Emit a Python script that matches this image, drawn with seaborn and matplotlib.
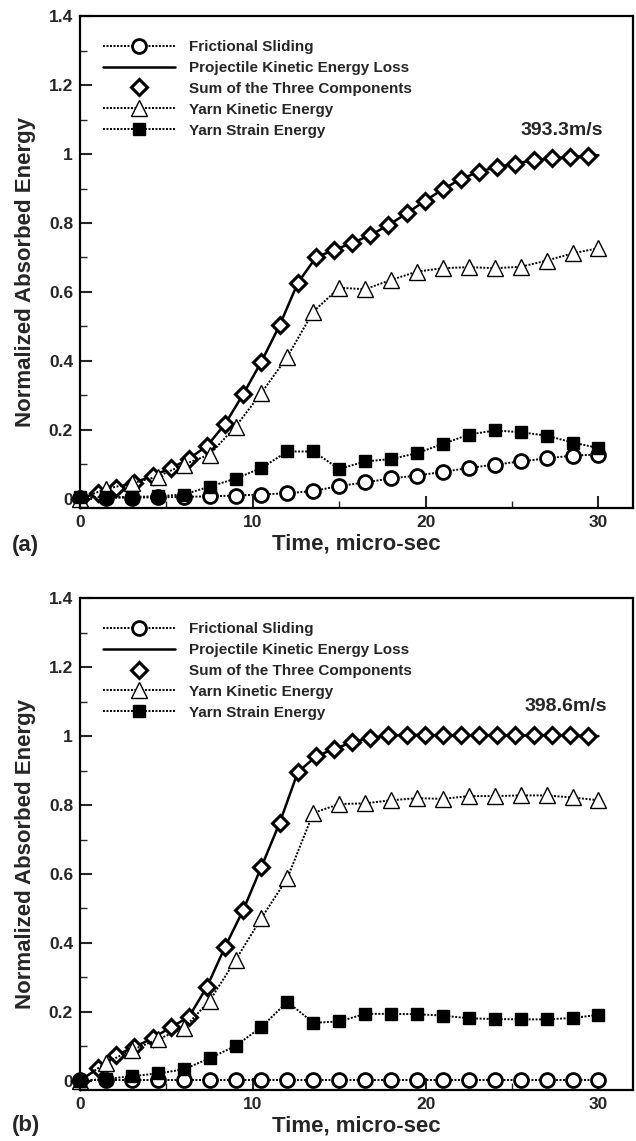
import numpy as np
import pandas as pd
import matplotlib
matplotlib.use('Agg')
import matplotlib.pyplot as plt
import seaborn as sns
from matplotlib.ticker import MultipleLocator, FuncFormatter
from matplotlib.font_manager import FontProperties

# time stamps, micro-sec
t_sum = [0, 1.05, 2.1, 3.15, 4.2, 5.25, 6.3, 7.35, 8.4, 9.45, 10.5, 11.55, 12.6, 13.65,
         14.7, 15.75, 16.8, 17.85, 18.9, 19.95, 21.0, 22.05, 23.1, 24.15, 25.2, 26.25,
         27.3, 28.35, 29.4]
t_proj = t_sum + [30]
t_yarn = [0, 1.5, 3, 4.5, 6, 7.5, 9, 10.5, 12, 13.5, 15, 16.5, 18, 19.5, 21, 22.5,
          24, 25.5, 27, 28.5, 30]

# (a) 393.3 m/s
sum_a = [0.0, 0.017, 0.032, 0.046, 0.067, 0.088, 0.116, 0.153, 0.217, 0.304, 0.398,
         0.503, 0.626, 0.700, 0.722, 0.742, 0.765, 0.794, 0.828, 0.864, 0.898, 0.928,
         0.949, 0.963, 0.972, 0.983, 0.988, 0.991, 0.995]
proj_a = sum_a + [0.997]
yke_a = [0.0, 0.028, 0.045, 0.064, 0.099, 0.128, 0.209, 0.307, 0.412, 0.543, 0.612,
         0.608, 0.635, 0.659, 0.669, 0.672, 0.669, 0.673, 0.691, 0.712, 0.727]
yse_a = [0.004, 0.004, 0.005, 0.007, 0.012, 0.035, 0.058, 0.089, 0.137, 0.137, 0.086,
         0.108, 0.115, 0.132, 0.159, 0.186, 0.198, 0.193, 0.183, 0.163, 0.147]
fric_a = [0.003, 0.003, 0.003, 0.004, 0.005, 0.007, 0.009, 0.012, 0.016, 0.022, 0.037,
          0.047, 0.059, 0.067, 0.078, 0.089, 0.099, 0.108, 0.117, 0.125, 0.128]

# (b) 398.6 m/s
sum_b = [0.0, 0.036, 0.074, 0.098, 0.123, 0.155, 0.185, 0.273, 0.389, 0.496, 0.621,
         0.748, 0.895, 0.941, 0.963, 0.982, 0.995, 1.002, 1.004, 1.003, 1.002, 1.002,
         1.002, 1.002, 1.002, 1.002, 1.002, 1.002, 1.0]
proj_b = sum_b + [1.0]
yke_b = [0.0, 0.052, 0.089, 0.120, 0.152, 0.232, 0.350, 0.472, 0.588, 0.777, 0.803,
         0.805, 0.814, 0.820, 0.818, 0.826, 0.826, 0.828, 0.828, 0.822, 0.814]
yse_b = [0.0, 0.005, 0.013, 0.021, 0.033, 0.065, 0.101, 0.156, 0.229, 0.168, 0.172,
         0.194, 0.194, 0.193, 0.189, 0.181, 0.179, 0.178, 0.178, 0.182, 0.191]
fric_b = [0.002, 0.002, 0.002, 0.002, 0.002, 0.002, 0.002, 0.002, 0.002, 0.002, 0.002,
          0.002, 0.002, 0.002, 0.002, 0.002, 0.002, 0.002, 0.002, 0.002, 0.002]

labels = ['Frictional Sliding', 'Projectile Kinetic Energy Loss',
          'Sum of the Three Components', 'Yarn Kinetic Energy', 'Yarn Strain Energy']

sns.set_style('ticks')
plt.rcParams['font.family'] = ['Liberation Sans', 'DejaVu Sans']
plt.rcParams['font.weight'] = 'bold'
plt.rcParams['axes.labelweight'] = 'bold'

dot = (0, (1, 0.8))
leg_font = FontProperties(family='Liberation Sans', weight='bold', size=11)


def draw_panel(ax, fric, proj, summ, yke, yse, speed, speed_xy, letter, letter_y):
    sns.lineplot(x=t_yarn, y=fric, ax=ax, color='k', lw=1.4, linestyle=dot,
                 marker='o', markersize=10, markerfacecolor='white',
                 markeredgecolor='k', markeredgewidth=2, clip_on=False, label=labels[0])
    sns.lineplot(x=t_proj, y=proj, ax=ax, color='k', lw=1.8, linestyle='-',
                 label=labels[1])
    sns.lineplot(x=t_sum, y=summ, ax=ax, color='k', linestyle='', marker='D',
                 markersize=8.5, markerfacecolor='white', markeredgecolor='k',
                 markeredgewidth=2.2, clip_on=False, label=labels[2])
    sns.lineplot(x=t_yarn, y=yke, ax=ax, color='k', lw=1.4, linestyle=dot,
                 marker='^', markersize=11, markerfacecolor='white',
                 markeredgecolor='k', markeredgewidth=1, clip_on=False, label=labels[3])
    sns.lineplot(x=t_yarn, y=yse, ax=ax, color='k', lw=1.4, linestyle=dot,
                 marker='s', markersize=8, markerfacecolor='k',
                 markeredgecolor='k', markeredgewidth=1, clip_on=False, label=labels[4])

    handles, labs = ax.get_legend_handles_labels()
    ax.legend(handles, labs, loc='upper left', bbox_to_anchor=(0.0416, 0.951),
              frameon=False, borderpad=0, borderaxespad=0, handlelength=4.7,
              handletextpad=0.9, labelspacing=0.45, prop=leg_font)

    ax.text(speed_xy[0], speed_xy[1], speed, ha='center', va='center',
            fontsize=14, fontweight='bold')

    ax.set_xlim(0, 32)
    ax.set_ylim(-0.027, 1.401)
    ax.xaxis.set_major_locator(MultipleLocator(10))
    ax.xaxis.set_minor_locator(MultipleLocator(5))
    ax.yaxis.set_major_locator(MultipleLocator(0.2))
    ax.yaxis.set_minor_locator(MultipleLocator(0.1))
    ax.yaxis.set_major_formatter(FuncFormatter(lambda v, p: f'{v:g}'))
    ax.xaxis.set_major_formatter(FuncFormatter(lambda v, p: f'{v:g}'))
    ax.tick_params(which='major', direction='in', length=8.5, width=1.5,
                   labelsize=12.5, pad=5, top=False, right=False)
    ax.tick_params(which='minor', direction='in', length=5, width=1,
                   top=False, right=False)
    for s in ax.spines.values():
        s.set_linewidth(1.6)
        s.set_color('k')

    ax.set_ylabel('Normalized Absorbed Energy', fontsize=16)
    ax.yaxis.set_label_coords(-0.08, 0.48)
    ax.set_xlabel('Time, micro-sec', fontsize=16)
    ax.xaxis.set_label_coords(0.5, -0.052)

    fig.text(12 / 636, letter_y, letter, fontsize=16, fontweight='bold',
             va='center', ha='left')


fig = plt.figure(figsize=(6.36, 11.41), dpi=100)
ax_a = fig.add_axes([0.1258, 0.5548, 0.8695, 0.4312])
ax_b = fig.add_axes([0.1258, 0.0447, 0.8695, 0.4312])

draw_panel(ax_a, fric_a, proj_a, sum_a, yke_a, yse_a, '393.3m/s', (27.85, 1.07),
           '(a)', 1 - 545 / 1141)
draw_panel(ax_b, fric_b, proj_b, sum_b, yke_b, yse_b, '398.6m/s', (28.1, 1.086),
           '(b)', 1 - 1125 / 1141)

fig.savefig('out.png', dpi=100)
